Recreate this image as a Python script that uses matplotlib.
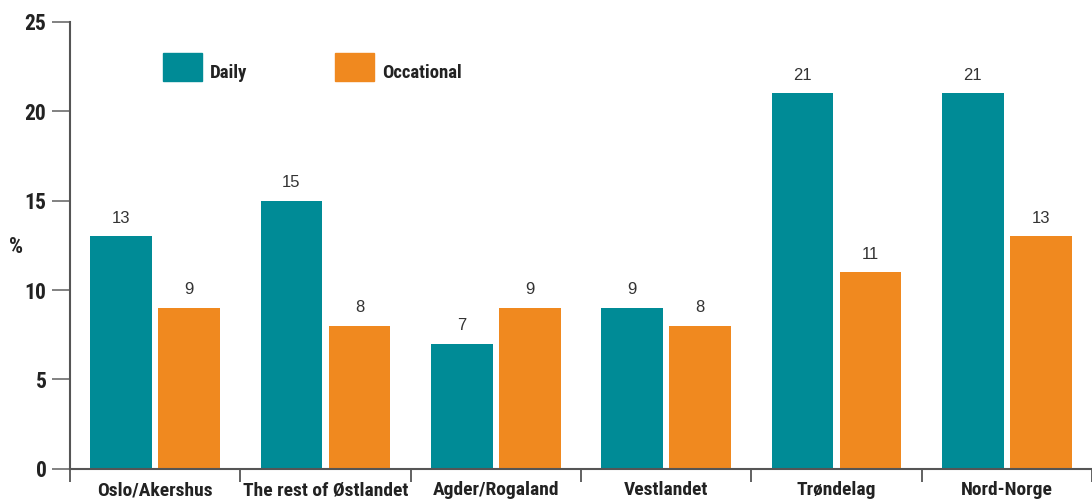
import matplotlib
matplotlib.use("Agg")
import matplotlib.pyplot as plt
import numpy as np
from matplotlib.patches import Rectangle

# Data
regions = ['Oslo/Akershus', 'The rest of Østlandet', 'Agder/Rogaland',
           'Vestlandet', 'Trøndelag', 'Nord-Norge']
daily = [13, 15, 7, 9, 21, 21]
occasional = [9, 8, 9, 8, 11, 13]
series_names = ['Daily', 'Occational']
yticks = [0, 5, 10, 15, 20, 25]

TEAL = '#008B96'
ORANGE = '#F0891F'
COND = ['Roboto Condensed', 'DejaVu Sans']

fig = plt.figure(figsize=(10.92, 4.99), dpi=100)
ax = fig.add_axes([70 / 1092, (499 - 468.7) / 499, 1 - 70 / 1092, (468.7 - 22) / 499])

x = np.arange(len(regions))
w = 0.362
off = 0.2
b1 = ax.bar(x - off, daily, width=w, color=TEAL)
b2 = ax.bar(x + off, occasional, width=w, color=ORANGE)

for bars, vals in [(b1, daily), (b2, occasional)]:
    for rect, v in zip(bars, vals):
        ax.annotate(str(v), (rect.get_x() + rect.get_width() / 2, v),
                    xytext=(0, 7.5), textcoords='offset points',
                    ha='center', va='bottom', fontsize=12,
                    family='Liberation Sans', color='#333333')

ax.set_ylim(0, 25)
ax.set_xlim(-0.5, 5.466)
ax.set_yticks(yticks)
ax.set_yticklabels([str(t) for t in yticks], family=COND, fontsize=15.5,
                   fontweight='bold', color='#222222')

# category ticks on boundaries, labels centered
ax.set_xticks(np.arange(len(regions) + 1) - 0.5)
ax.set_xticklabels([])
ax.set_xticks(x, minor=True)
ax.set_xticklabels(regions, minor=True, family=COND, fontsize=14,
                   fontweight='bold', color='#222222')
ax.tick_params(axis='x', which='major', length=9, width=1.3, color='#555555', direction='out')
ax.tick_params(axis='x', which='minor', length=0, pad=9)
ax.tick_params(axis='y', length=13, width=1.3, color='#777777', pad=4)

for s in ['top', 'right']:
    ax.spines[s].set_visible(False)
for s in ['left', 'bottom']:
    ax.spines[s].set_color('#555555')
    ax.spines[s].set_linewidth(1.5)

fig.text(9 / 1092, 1 - 247 / 499, '%', family=COND, fontsize=16,
         fontweight='bold', color='#222222', va='center', ha='left')

# legend boxes drawn in figure pixel space
for (x0, name, col) in [(163, series_names[0], TEAL), (335, series_names[1], ORANGE)]:
    fig.patches.append(Rectangle((x0 / 1092, 1 - 80.7 / 499), 39 / 1092, 27.7 / 499,
                                 transform=fig.transFigure, color=col))
    fig.text((x0 + 47) / 1092, 1 - 73 / 499, name, family=COND, fontsize=13.5,
             fontweight='bold', color='#222222', va='center', ha='left')

fig.savefig('out.png', dpi=100)
